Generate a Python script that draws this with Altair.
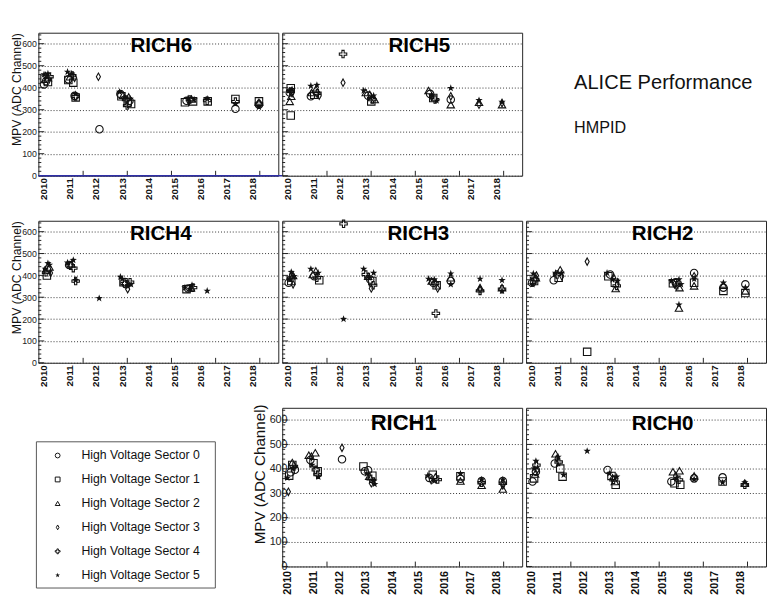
import altair as alt
import pandas as pd

# ---------------- data ----------------
rich6_year = [2010.01, 2010.09, 2010.16, 2010.03, 2010.16, 2010.07, 2010.22, 2010.16, 2010.01,
              2010.91, 2011.07, 2011.09, 2010.94, 2010.94, 2011.13, 2011.00, 2011.18,
              2011.22, 2011.22, 2011.22, 2011.18,
              2012.09, 2012.13,
              2012.90, 2012.93, 2012.97, 2013.03, 2013.09, 2013.15, 2013.21, 2013.28, 2013.31, 2013.34, 2013.25, 2013.19,
              2015.40, 2015.46, 2015.52, 2015.59, 2015.65, 2015.71, 2015.75, 2015.55,
              2016.25, 2016.27, 2016.25,
              2017.33, 2017.33, 2017.33, 2017.33,
              2018.23, 2018.23, 2018.23, 2018.23, 2018.23]
rich6_mpv = [415, 430, 426, 441, 445, 453, 450, 464, 460,
             472, 464, 455, 438, 435, 423, 450, 445,
             371, 360, 356, 363,
             450, 211,
             381, 371, 361, 366, 356, 346, 334, 341, 349, 326, 356, 319,
             334, 341, 352, 346, 349, 338, 346, 337,
             349, 338, 341,
             349, 304, 326, 337,
             338, 312, 323, 334, 326]
rich6_sector = [0, 0, 1, 1, 2, 3, 4, 5, 5,
                5, 5, 4, 0, 1, 1, 2, 3,
                5, 4, 1, 0,
                3, 0,
                5, 0, 1, 2, 5, 4, 1, 0, 5, 1, 3, 4,
                1, 0, 5, 4, 2, 1, 5, 3,
                5, 1, 4,
                1, 0, 5, 4,
                1, 5, 0, 2, 4]

rich5_year = [2010.12, 2010.12, 2010.08, 2010.17, 2010.08, 2010.08, 2010.14, 2010.17, 2010.12,
              2010.89, 2011.12, 2011.08, 2010.92, 2010.89, 2011.02, 2011.14, 2011.21,
              2012.12, 2012.12,
              2012.91, 2012.99, 2013.08, 2013.16, 2013.24, 2013.20, 2013.29, 2013.14, 2013.33,
              2015.39, 2015.45, 2015.51, 2015.57, 2015.64, 2015.70, 2015.51,
              2016.24, 2016.24, 2016.24, 2016.24,
              2017.32, 2017.32, 2017.32,
              2018.20, 2018.20, 2018.20]
rich5_mpv = [398, 274, 387, 393, 378, 338, 361, 375, 383,
             408, 412, 393, 378, 361, 368, 375, 364,
             553, 423,
             387, 378, 364, 353, 346, 338, 364, 368, 346,
             387, 372, 364, 353, 346, 341, 358,
             398, 361, 323, 346,
             334, 343, 323,
             323, 335, 330]
rich5_sector = [1, 1, 5, 5, 0, 2, 2, 3, 4,
                5, 5, 2, 2, 0, 1, 4, 3,
                4, 3,
                5, 2, 0, 5, 4, 1, 5, 3, 2,
                2, 0, 5, 1, 4, 5, 3,
                5, 3, 2, 0,
                2, 5, 3,
                2, 5, 3]

rich4_year = [2010.12, 2010.16, 2010.13, 2010.22, 2010.09, 2010.26, 2010.22, 2010.06,
              2010.91, 2011.13, 2011.03, 2011.13, 2010.97, 2011.06,
              2011.22, 2011.22,
              2012.12,
              2012.93, 2013.00, 2013.09, 2013.15, 2013.21, 2013.30, 2013.21, 2013.05, 2013.34,
              2015.40, 2015.59, 2015.71, 2015.52, 2015.46, 2015.67, 2015.63,
              2016.25]
rich4_mpv = [399, 455, 426, 438, 414, 411, 448, 429,
             458, 470, 444, 433, 448, 452,
             378, 374,
             295,
             393, 384, 363, 359, 352, 369, 337, 369, 359,
             344, 337, 344, 340, 337, 355, 343,
             329]
rich4_sector = [1, 5, 0, 2, 4, 3, 5, 5,
                5, 5, 4, 4, 0, 2,
                5, 4,
                5,
                5, 5, 4, 0, 5, 4, 3, 1, 5,
                5, 5, 4, 0, 1, 5, 2,
                5]

rich3_year = [2012.14, 2012.14,
              2010.14, 2010.08, 2010.14, 2010.04, 2010.21, 2010.12, 2010.21, 2010.24,
              2010.89, 2010.96, 2011.02, 2011.12, 2011.17, 2011.21, 2011.08,
              2012.91, 2012.99, 2013.08, 2013.16, 2013.24, 2013.29, 2013.20, 2013.27, 2013.12,
              2015.39, 2015.51, 2015.57, 2015.64, 2015.70, 2015.61, 2015.74, 2015.67,
              2016.24, 2016.24, 2016.24, 2016.24,
              2017.36, 2017.36, 2017.36, 2017.36,
              2018.20, 2018.20, 2018.20, 2018.20]
rich3_mpv = [636, 200,
             415, 381, 374, 366, 399, 389, 359, 396,
             429, 404, 396, 389, 411, 378, 418,
             429, 404, 396, 381, 374, 411, 340, 355, 389,
             384, 374, 366, 364, 355, 381, 340, 226,
             408, 389, 359, 374,
             384, 344, 329, 337,
             378, 344, 329, 337]
rich3_sector = [4, 5,
                5, 5, 1, 0, 2, 4, 3, 5,
                5, 2, 0, 4, 5, 1, 3,
                5, 4, 2, 0, 1, 5, 3, 4, 5,
                5, 2, 0, 4, 1, 5, 3, 4,
                5, 2, 5, 0,
                5, 2, 4, 3,
                5, 2, 5, 4]

rich2_year = [2012.13, 2012.13,
              2010.07, 2010.10, 2010.02, 2010.17, 2010.14, 2010.19, 2010.04,
              2010.85, 2011.04, 2010.92, 2011.10, 2010.98, 2011.16, 2011.14,
              2012.89, 2012.94, 2013.01, 2013.10, 2013.19, 2013.26, 2013.22, 2013.29, 2013.14,
              2015.35, 2015.41, 2015.51, 2015.64, 2015.56, 2015.66, 2015.47, 2015.72, 2015.64, 2015.64,
              2016.22, 2016.22, 2016.22, 2016.22, 2016.22,
              2017.34, 2017.34, 2017.34, 2017.34,
              2018.18, 2018.18, 2018.18, 2018.18]
rich2_mpv = [463, 50,
             408, 374, 366, 389, 381, 399, 359,
             378, 389, 411, 426, 404, 396, 411,
             411, 396, 404, 381, 366, 352, 340, 374, 389,
             374, 364, 369, 381, 355, 344, 359, 359, 251, 266,
             411, 384, 352, 366, 396,
             366, 329, 344, 355,
             359, 344, 319, 329]
rich2_sector = [3, 1,
                5, 1, 0, 2, 4, 3, 5,
                0, 1, 5, 2, 4, 3, 5,
                5, 1, 0, 5, 1, 4, 2, 5, 3,
                5, 1, 0, 5, 4, 2, 3, 5, 2, 5,
                0, 5, 2, 1, 3,
                5, 1, 0, 2,
                0, 5, 1, 2]

rich1_year = [2010.03, 2009.99, 2010.06, 2010.12, 2010.18, 2010.24, 2010.21, 2010.28, 2010.18,
              2011.06, 2010.87, 2010.99, 2010.93, 2011.08, 2010.91, 2011.15, 2011.18, 2011.15, 2010.81,
              2012.08, 2012.08,
              2012.90, 2012.95, 2013.03, 2013.12, 2013.18, 2013.24, 2013.30, 2013.20, 2013.08, 2013.33,
              2015.36, 2015.42, 2015.55, 2015.65, 2015.74, 2015.61, 2015.49,
              2016.61, 2016.61, 2016.61, 2016.61,
              2017.42, 2017.42, 2017.42, 2017.42,
              2018.23, 2018.23, 2018.23, 2018.23, 2018.23]
rich1_mpv = [306, 363, 372, 386, 426, 410, 403, 396, 416,
             466, 436, 423, 416, 396, 450, 390, 367, 376, 456,
             486, 439,
             410, 390, 380, 370, 359, 372, 350, 341, 394, 337,
             372, 363, 376, 367, 356, 350, 354,
             380, 350, 370, 359,
             356, 333, 350, 343,
             356, 317, 350, 341, 332]
rich1_sector = [3, 5, 1, 0, 2, 4, 5, 0, 1,
                2, 0, 1, 5, 4, 3, 1, 5, 4, 2,
                3, 0,
                1, 0, 5, 2, 4, 1, 5, 3, 0, 5,
                5, 0, 1, 2, 4, 5, 3,
                5, 2, 1, 0,
                5, 2, 0, 4,
                5, 2, 0, 4, 3]

rich0_year = [2010.04, 2010.10, 2010.14, 2010.17, 2010.19, 2010.23, 2010.10, 2010.17,
              2010.92, 2011.02, 2010.89, 2011.10, 2011.04, 2011.19, 2011.23, 2010.98,
              2012.13,
              2012.91, 2012.98, 2013.06, 2013.14, 2013.19, 2013.26, 2013.22, 2013.10,
              2015.41, 2015.66, 2015.35, 2015.47, 2015.54, 2015.64, 2015.69, 2015.51,
              2016.22, 2016.22, 2016.22,
              2017.31, 2017.31, 2017.31,
              2018.16, 2018.16, 2018.16]
rich0_mpv = [348, 361, 379, 432, 415, 398, 401, 388,
             462, 449, 422, 401, 428, 368, 375, 442,
             473,
             395, 381, 371, 355, 348, 368, 335, 361,
             388, 392, 348, 341, 361, 355, 335, 371,
             371, 357, 361,
             365, 348, 344,
             344, 335, 341]
rich0_sector = [0, 1, 2, 5, 4, 3, 5, 0,
                2, 5, 0, 1, 4, 1, 5, 3,
                5,
                0, 5, 1, 4, 2, 5, 1, 3,
                2, 2, 0, 1, 5, 4, 1, 3,
                2, 5, 0,
                0, 1, 5,
                5, 4, 2]

sector_ids = [0, 1, 2, 3, 4, 5]
sector_labels = ["High Voltage Sector 0", "High Voltage Sector 1", "High Voltage Sector 2",
                 "High Voltage Sector 3", "High Voltage Sector 4", "High Voltage Sector 5"]
year_labels = [2010, 2011, 2012, 2013, 2014, 2015, 2016, 2017, 2018]
year_ticks = [2011.506, 2013.195, 2014.884, 2016.573, 2018.262]
mpv_labels = [0, 100, 200, 300, 400, 500, 600]
mpv_minor = [v for v in range(0, 650, 20) if v % 100]
annotations = ["ALICE Performance", "HMPID"]
annotation_sizes = [20.5, 16.5]
y_title = "MPV (ADC Channel)"

# ---------------- style ----------------
FONT = "Liberation Sans"
PX_YEAR = 26.7
OFF = 5.5
STAR = ("M0,-1L0.235,-0.324L0.951,-0.309L0.38,0.124L0.588,0.809L0,0.4"
        "L-0.588,0.809L-0.38,0.124L-0.951,-0.309L-0.235,-0.324Z")
DIAMOND = "M0,-1L0.55,0L0,1L-0.55,0Z"
PLUS = "M-0.3,-1H0.3V-0.3H1V0.3H0.3V1H-0.3V0.3H-1V-0.3H-0.3Z"
SHAPES = ["circle", "square", "triangle-up", DIAMOND, PLUS, STAR]
shape_scale = alt.Scale(domain=sector_ids, range=SHAPES)
INK = "#111111"


def panel(name, years, mpvs, sectors, w, h, tdx, tdy, tsize, ymode,
          xlabsize=10, xlabpad=2, blue=False):
    x0 = 2010 - OFF / PX_YEAR
    x1 = x0 + w / PX_YEAR
    xs = alt.Scale(domain=[x0, x1], nice=False, zero=False)
    ys = alt.Scale(domain=[0, 650], nice=False, zero=False)
    xaxis = alt.Axis(values=year_labels, format="d", labelAngle=270, labelAlign="right",
                     labelBaseline="middle", labelFont=FONT, labelFontSize=xlabsize,
                     labelFontWeight="bold", labelColor=INK, labelPadding=xlabpad,
                     labelFlush=False, labelOverlap=False, ticks=False, domain=False,
                     grid=False, title=None)
    common = dict(values=mpv_labels, grid=True, gridDash=[1, 2], gridColor="#333333",
                  gridWidth=1, ticks=False, domain=False, labelOverlap=False)
    if ymode == "left":
        yaxis = alt.Axis(format="d", labelFont=FONT, labelFontSize=9, labelColor="#222222",
                         labelPadding=2, labelAlign="right", title=y_title, titleFont=FONT,
                         titleFontSize=12.5, titleFontWeight="normal", titleColor=INK,
                         titleAngle=270, titleAlign="right", titleBaseline="alphabetic",
                         titleX=-18, titleY=0, **common)
    elif ymode == "inner":
        yaxis = alt.Axis(format="d", labelFont=FONT, labelFontSize=11, labelColor="#222222",
                         labelPadding=-5, labelAlign="right", title=y_title, titleFont=FONT,
                         titleFontSize=15.5, titleFontWeight="normal", titleColor=INK,
                         titleAngle=270, titleAlign="right", titleBaseline="alphabetic",
                         titleX=-18.5, titleY=-4, **common)
    else:
        yaxis = alt.Axis(labels=False, title=None, **common)

    X = alt.X("year:Q", scale=xs, axis=xaxis)
    Y = alt.Y("mpv:Q", scale=ys, axis=yaxis)
    df = pd.DataFrame({"year": years, "mpv": mpvs, "sector": sectors})
    base = alt.Chart(df)
    opens = base.transform_filter("datum.sector != 5").mark_point(
        filled=False, size=58, strokeWidth=1.1, color=INK, opacity=1
    ).encode(x=X, y=Y, shape=alt.Shape("sector:N", scale=shape_scale, legend=None))
    stars = base.transform_filter("datum.sector == 5").mark_point(
        filled=True, shape=STAR, size=62, color=INK, opacity=1
    ).encode(x=X, y=Y)
    xt = alt.Chart(pd.DataFrame({"year": year_ticks})).mark_rule(
        color="#222222", strokeWidth=1).encode(x=X, y=alt.value(h), y2=alt.value(h - 5))
    ytmaj = alt.Chart(pd.DataFrame({"mpv": mpv_labels})).mark_rule(
        color="#222222", strokeWidth=1).encode(y=Y, x=alt.value(0), x2=alt.value(6))
    ytmin = alt.Chart(pd.DataFrame({"mpv": mpv_minor})).mark_rule(
        color="#222222", strokeWidth=1).encode(y=Y, x=alt.value(0), x2=alt.value(3))
    title = alt.Chart(pd.DataFrame({"t": [name]})).mark_text(
        font=FONT, fontSize=tsize, fontWeight="bold", align="center", baseline="middle",
        color="#000000").encode(text="t:N", x=alt.value(tdx), y=alt.value(tdy))
    layers = [opens, stars, xt, ytmaj, ytmin, title]
    if blue:
        layers.append(alt.Chart(pd.DataFrame({"mpv": [0]})).mark_rule(
            color="#2f2fa8", strokeWidth=1.5).encode(y=Y, x=alt.value(0), x2=alt.value(w + 4)))
    return alt.layer(*layers).properties(
        width=w, height=h, view=alt.ViewBackground(stroke="#222222", strokeWidth=1))


H1, H2, H3 = 146, 145, 162
W1, W2, W3 = 245, 245, 245

r6 = panel("RICH6", rich6_year, rich6_mpv, rich6_sector, W1, H1, 125.5, 14, 21, "left", blue=True)
r5 = panel("RICH5", rich5_year, rich5_mpv, rich5_sector, W2, H1, 140, 14, 21, "none")
r4 = panel("RICH4", rich4_year, rich4_mpv, rich4_sector, W1, H2, 125, 14, 21, "left")
r3 = panel("RICH3", rich3_year, rich3_mpv, rich3_sector, W2, H2, 139, 14, 21, "none")
r2 = panel("RICH2", rich2_year, rich2_mpv, rich2_sector, W3, H2, 139.5, 14, 21, "none")
r1 = panel("RICH1", rich1_year, rich1_mpv, rich1_sector, W2, H3, 124, 16, 22.5, "inner",
           xlabsize=11, xlabpad=4)
r0 = panel("RICH0", rich0_year, rich0_mpv, rich0_sector, W3, H3, 139.5, 16.5, 21, "none",
           xlabsize=11, xlabpad=4)

# annotation panel
ann_df = pd.DataFrame({"label": annotations, "row": [0, 1], "size": annotation_sizes})
AY = alt.Y("row:Q", scale=alt.Scale(domain=[0, 1], range=[51, 97]), axis=None)
ann = alt.Chart(ann_df).mark_text(
    align="left", baseline="middle", font=FONT, color=INK
).encode(x=alt.value(49), y=AY, text="label:N",
         size=alt.Size("size:Q", scale=None, legend=None)).properties(
    width=W3, height=H1, view=alt.ViewBackground(stroke="transparent"))

# legend panel
leg_df = pd.DataFrame({"sector": sector_ids, "label": sector_labels})
LY = alt.Y("sector:Q", scale=alt.Scale(domain=[0, 5], range=[48.7, 171]), axis=None)
box = alt.Chart(pd.DataFrame({"a": [0]})).mark_rect(
    fill="white", stroke="#555555", strokeWidth=1
).encode(x=alt.value(-2), x2=alt.value(180.7), y=alt.value(34.7), y2=alt.value(184))
leg_open = alt.Chart(leg_df).transform_filter("datum.sector != 5").mark_point(
    filled=False, size=24, strokeWidth=1, color=INK, opacity=1
).encode(x=alt.value(19.7), y=LY, shape=alt.Shape("sector:N", scale=shape_scale, legend=None))
leg_star = alt.Chart(leg_df).transform_filter("datum.sector == 5").mark_point(
    filled=True, shape=STAR, size=26, color=INK, opacity=1
).encode(x=alt.value(19.7), y=LY)
leg_text = alt.Chart(leg_df).mark_text(
    align="left", baseline="middle", fontSize=12.5, font=FONT, color=INK
).encode(x=alt.value(44), y=LY, text="label:N")
leg = alt.layer(box, leg_open, leg_star, leg_text).properties(
    width=W1, height=H3, view=alt.ViewBackground(stroke="transparent"))

chart = alt.concat(
    r6, r5, ann,
    r4, r3, r2,
    leg, r1, r0,
    columns=3, spacing={"row": 46, "column": 4}, bounds="flush"
).properties(
    padding={"left": 2, "top": 18, "right": 0, "bottom": 0}, background="white"
).configure_view(stroke="transparent").configure(font=FONT)

chart.save("out.html", embed_options={"renderer": "svg", "actions": False})
